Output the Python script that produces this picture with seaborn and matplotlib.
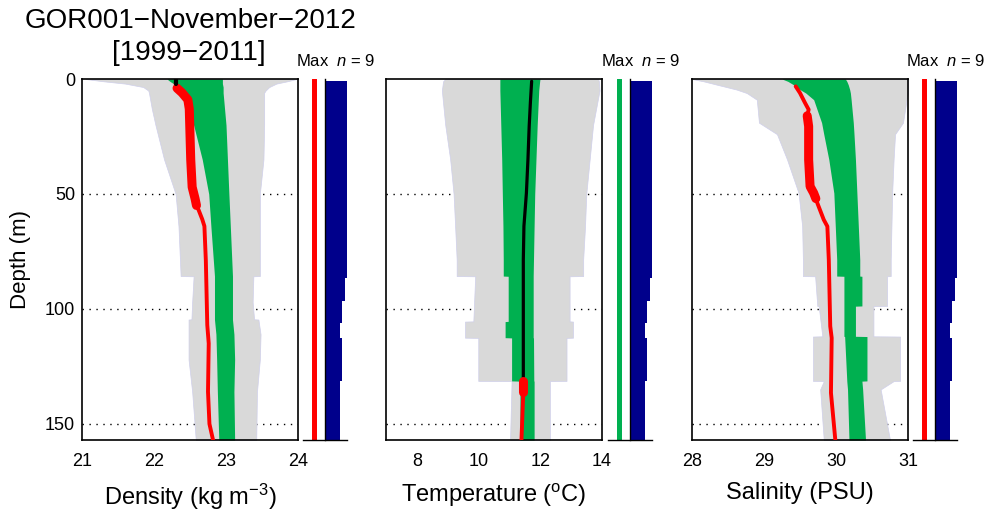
import numpy as np
import matplotlib
matplotlib.use("Agg")
import matplotlib.pyplot as plt
import seaborn as sns

# ---- data ----
# density (kg m-3)
dens_depth = [0, 1, 2, 3.5, 5, 6, 13, 20, 35, 50, 64, 85.7, 85.8, 97, 104.5, 104.6, 111, 122, 136, 157]
dens_min = [21.05, 21.3, 21.6, 21.85, 21.92, 21.93, 21.97, 22.02, 22.14, 22.30, 22.34, 22.37, 22.55, 22.53, 22.52, 22.48, 22.48, 22.48, 22.53, 22.58]
dens_max = [23.98, 23.85, 23.7, 23.6, 23.55, 23.53, 23.53, 23.53, 23.52, 23.47, 23.47, 23.47, 23.38, 23.37, 23.39, 23.45, 23.48, 23.47, 23.43, 23.42]
dens_lo = [22.18, 22.22, 22.27, 22.31, 22.34, 22.36, 22.48, 22.55, 22.67, 22.76, 22.79, 22.84, 22.84, 22.84, 22.84, 22.84, 22.86, 22.87, 22.88, 22.90]
dens_hi = [22.95, 22.95, 22.95, 22.96, 22.96, 22.96, 22.98, 23.0, 23.02, 23.04, 23.06, 23.09, 23.09, 23.09, 23.09, 23.09, 23.11, 23.12, 23.11, 23.12]
dens_obs_depth = [0.5, 2, 4, 6, 9, 13, 35, 47, 52, 55, 57, 61, 64, 79, 107, 115, 136, 150, 157]
dens_obs = [22.30, 22.30, 22.32, 22.39, 22.47, 22.49, 22.51, 22.53, 22.57, 22.59, 22.62, 22.67, 22.70, 22.72, 22.74, 22.76, 22.75, 22.77, 22.82]
dens_thick = (4, 55)

# temperature (degC)
temp_depth = [0, 1, 5, 20, 35, 50, 64, 78.5, 85.7, 85.8, 105.4, 105.5, 112.5, 112.6, 131.3, 131.4, 157]
temp_min = [8.92, 8.85, 8.81, 8.92, 9.08, 9.19, 9.24, 9.29, 9.29, 9.89, 9.83, 9.56, 9.56, 9.99, 9.99, 11.07, 11.02]
temp_max = [13.87, 13.9, 13.92, 13.71, 13.6, 13.49, 13.45, 13.39, 13.39, 12.95, 12.95, 13.06, 13.06, 12.85, 12.85, 12.31, 12.31]
temp_lo = [10.69, 10.69, 10.69, 10.72, 10.75, 10.77, 10.79, 10.80, 10.80, 10.96, 10.96, 10.86, 10.86, 11.07, 11.07, 11.34, 11.34]
temp_hi = [11.99, 11.98, 11.95, 11.90, 11.86, 11.82, 11.80, 11.78, 11.77, 11.77, 11.77, 11.77, 11.77, 11.78, 11.79, 11.80, 11.80]
temp_obs_depth = [1, 10, 20.6, 35, 49.6, 64, 78.6, 100, 131.4, 136, 157]
temp_obs = [11.72, 11.68, 11.64, 11.60, 11.55, 11.47, 11.45, 11.45, 11.45, 11.45, 11.39]
temp_thick = (131.4, 136)

# salinity (PSU)
sal_depth = [0, 1, 2.5, 4.6, 6.1, 9, 19, 24, 35, 49.6, 64, 78.6, 85.7, 85.8, 98.7, 98.8, 111.9, 112, 131.3, 131.4, 135, 157]
sal_min = [28.0, 28.16, 28.35, 28.62, 28.76, 28.9, 28.93, 29.18, 29.32, 29.48, 29.53, 29.54, 29.54, 29.71, 29.74, 29.76, 29.81, 29.68, 29.68, 29.83, 29.78, 29.83]
sal_max = [31.0, 31.0, 31.0, 31.0, 31.0, 30.98, 30.93, 30.82, 30.80, 30.78, 30.77, 30.76, 30.76, 30.71, 30.71, 30.52, 30.52, 30.89, 30.89, 30.80, 30.62, 30.75]
sal_lo = [29.25, 29.33, 29.41, 29.5, 29.58, 29.69, 29.80, 29.83, 29.90, 29.97, 29.99, 30.01, 30.01, 30.11, 30.11, 30.11, 30.11, 30.12, 30.15, 30.15, 30.16, 30.18]
sal_hi = [30.13, 30.15, 30.17, 30.19, 30.20, 30.21, 30.24, 30.25, 30.27, 30.29, 30.31, 30.33, 30.33, 30.36, 30.36, 30.27, 30.27, 30.43, 30.43, 30.36, 30.37, 30.41]
sal_obs_depth = [1, 3.2, 6.1, 10.4, 13.3, 16, 20.6, 35.1, 46.7, 49.6, 52, 53.9, 61.2, 64.1, 78.6, 107.5, 112.6, 136.5, 156.8]
sal_obs = [29.41, 29.44, 29.50, 29.57, 29.62, 29.60, 29.62, 29.62, 29.64, 29.69, 29.72, 29.74, 29.83, 29.88, 29.90, 29.92, 29.94, 29.93, 29.99]
sal_thick = (16, 52)

# number of casts per depth bin
count_edges = [1, 86.5, 96.7, 106, 112.6, 131.4, 157]
counts = [9, 8, 7, 6, 7, 6]
max_n = 9

depth_ticks = [0, 50, 100, 150]
xlabels = ["Density (kg m$^{-3}$)", "Temperature ($^{\\rm o}$C)", "Salinity (PSU)"]
xlims = [(21, 24), (7, 14), (28, 31)]
xticks = [[21, 22, 23, 24], [8, 10, 12, 14], [28, 29, 30, 31]]
flag_colors = ["#ff0000", "#00b050", "#ff0000"]
title_line1 = "GOR001\u2212November\u22122012"
title_line2 = "[1999\u22122011]"

# ---- style ----
sns.set_theme(style="white")
plt.rcParams["font.family"] = ["Liberation Sans", "DejaVu Sans"]
plt.rcParams["mathtext.fontset"] = "custom"
plt.rcParams["mathtext.rm"] = "Liberation Sans"
plt.rcParams["mathtext.it"] = "Liberation Sans:italic"
plt.rcParams["axes.unicode_minus"] = True
for key in ("text.color", "axes.labelcolor", "xtick.color", "ytick.color"):
    plt.rcParams[key] = "black"

GRAY = "#d9d9d9"
GREEN = "#00b050"
RED = "#ff0000"
NAVY = "#00008b"

W, H = 991, 514
fig = plt.figure(figsize=(W / 100, H / 100), dpi=100)


def px(l, t, w, h):
    return [l / W, 1 - (t + h) / H, w / W, h / H]


main_lefts = [82, 386, 692]
side_lefts = [303, 608, 913]
TOP, HGT = 79, 361

panels = [
    (dens_depth, dens_min, dens_max, dens_lo, dens_hi, dens_obs_depth, dens_obs, dens_thick, "red"),
    (temp_depth, temp_min, temp_max, temp_lo, temp_hi, temp_obs_depth, temp_obs, temp_thick, "black"),
    (sal_depth, sal_min, sal_max, sal_lo, sal_hi, sal_obs_depth, sal_obs, sal_thick, "red"),
]


def profile(ax, x, y, color, lw, z=3):
    sns.lineplot(x=x, y=y, orient="y", sort=False, estimator=None,
                 color=color, lw=lw, ax=ax, zorder=z)


for i, (dep, vmin, vmax, lo, hi, odep, oval, thick, mode) in enumerate(panels):
    ax = fig.add_axes(px(main_lefts[i], TOP, 216, HGT))
    ax.grid(False)
    # dotted depth guides, under the envelopes
    ax.hlines(depth_ticks[1:], *xlims[i], colors="black", linestyles=(0, (1, 4)), lw=1.0, zorder=0.5)
    ax.fill_betweenx(dep, vmin, vmax, color=GRAY, edgecolor="#cfcfea", lw=0.5, zorder=1)
    ax.fill_betweenx(dep, lo, hi, color=GREEN, lw=0, zorder=2)

    odep = np.array(odep)
    oval = np.array(oval)
    th = (odep >= thick[0]) & (odep <= thick[1])
    if mode == "red":
        rest = odep >= 2
        tip = odep <= 2
        profile(ax, oval[rest], odep[rest], RED, 2.8)
        profile(ax, oval[th], odep[th], RED, 6.5)
        profile(ax, oval[tip], odep[tip], "black", 3, z=4)
    else:
        blk = odep <= thick[0]
        red = odep >= thick[0]
        profile(ax, oval[blk], odep[blk], "black", 2.3)
        profile(ax, oval[red], odep[red], RED, 2.8)
        profile(ax, oval[th], odep[th], RED, 6.5)

    ax.set_xlim(*xlims[i])
    ax.set_ylim(157, 0)
    ax.set_xticks(xticks[i])
    ax.set_yticks(depth_ticks)
    for s in ax.spines.values():
        s.set_color("black")
        s.set_linewidth(1.2)
    ax.tick_params(axis="x", direction="in", length=5, width=1, labelsize=13, pad=9)
    ax.tick_params(axis="y", length=0, labelsize=13, pad=5)
    if i > 0:
        ax.set_yticklabels([])
    else:
        ax.set_ylabel("Depth (m)", fontsize=16, labelpad=10)
    ax.set_xlabel(xlabels[i], fontsize=17, labelpad=9)

    # side strip: flag line + cast counts
    sx = fig.add_axes(px(side_lefts[i], TOP, 44, HGT))
    sx.set_facecolor("none")
    sx.axvline(-4.5, color=flag_colors[i], lw=3.6)
    sx.barh(count_edges[:-1], counts, height=np.diff(count_edges), align="edge",
            color=NAVY, lw=0)
    sx.set_xlim(-max_n, max_n)
    sx.set_ylim(157, 0)
    sx.spines["top"].set_visible(False)
    sx.spines["right"].set_visible(False)
    sx.spines["left"].set_position(("data", 0))
    for s in ("left", "bottom"):
        sx.spines[s].set_color("black")
        sx.spines[s].set_linewidth(1.0)
    sx.set_yticks(depth_ticks)
    sx.set_xticks([-max_n])
    sx.tick_params(axis="y", direction="out", length=4, width=1, labelleft=False)
    sx.tick_params(axis="x", direction="in", length=5, width=1, labelbottom=False)
    sx.grid(False)
    sx.text(0.75, 1.036, "Max  $n$ = %d" % max_n, transform=sx.transAxes,
            ha="center", va="baseline", fontsize=12)

fig.text(190 / W, 1 - 28 / H, title_line1, ha="center", va="baseline", fontsize=20)
fig.text(189 / W, 1 - 60 / H, title_line2, ha="center", va="baseline", fontsize=20)

fig.savefig("out.png", dpi=100)
